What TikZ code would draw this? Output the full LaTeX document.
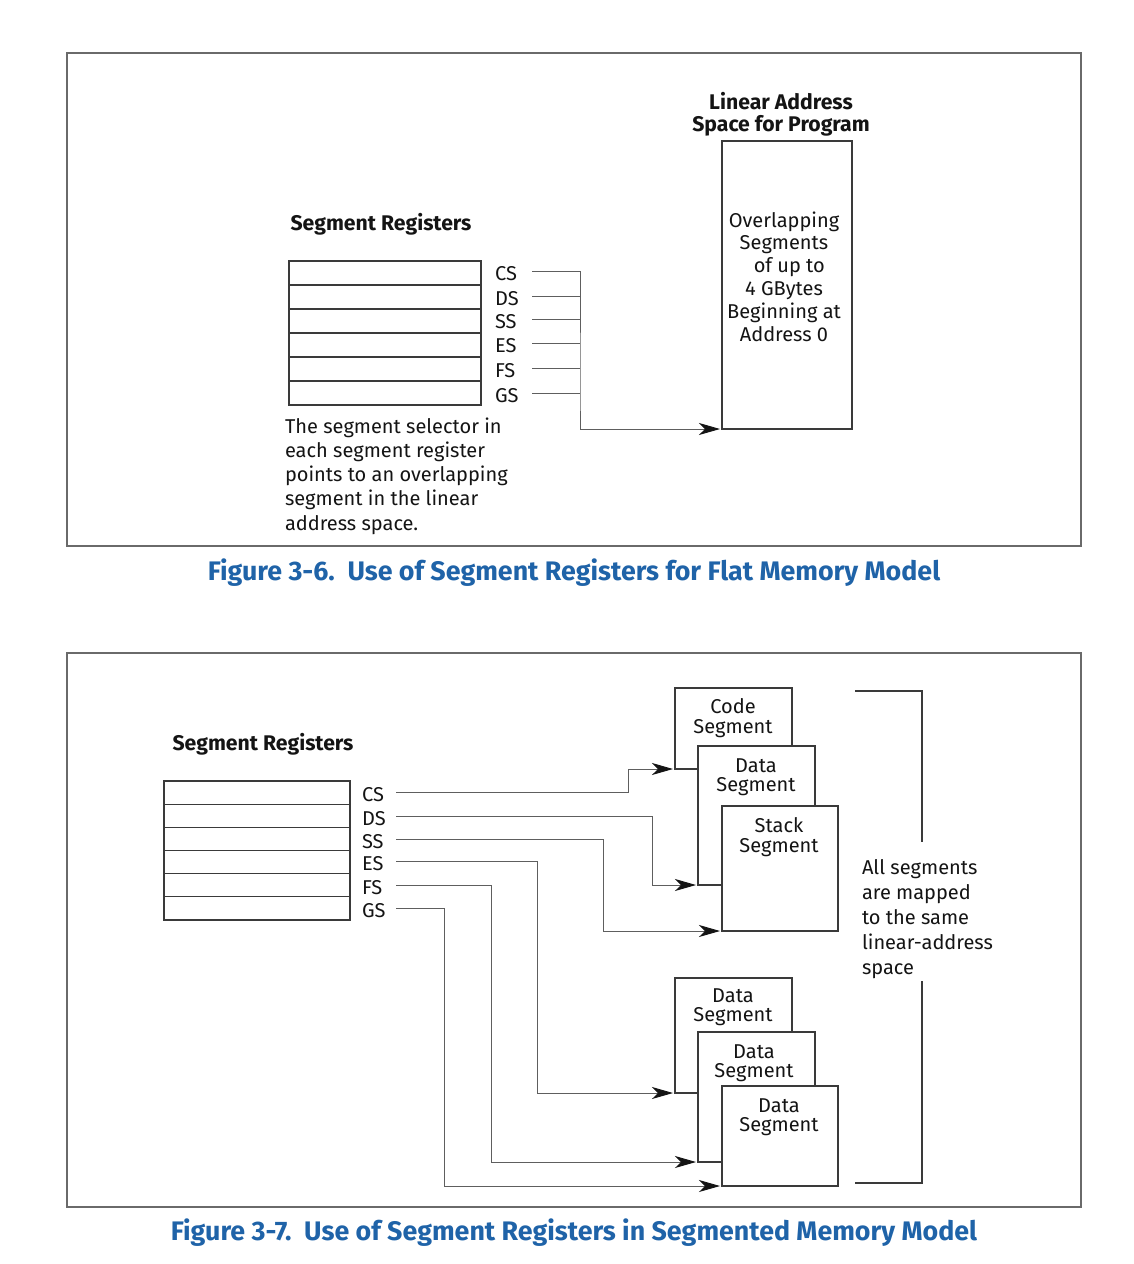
\documentclass[tikz,border=0pt]{standalone}
\usepackage{fontspec}
\setmainfont{Fira Sans}
\usetikzlibrary{arrows.meta,calc}
\definecolor{capblue}{HTML}{1F63A8}
\definecolor{ink}{HTML}{141414}
\definecolor{boxline}{HTML}{3A3A3A}
\definecolor{wire}{HTML}{5E5E5E}
\definecolor{framec}{HTML}{6A6A6A}
\begin{document}
\begin{tikzpicture}[x=1pt,y=-1pt,
  every node/.style={text=ink, inner sep=0pt, outer sep=0pt},
  txt/.style={font=\fontsize{20}{23}\selectfont},
  btxt/.style={font=\bfseries\fontsize{21.2}{22}\selectfont},
  figcap/.style={font=\bfseries\fontsize{26.8}{28}\selectfont, text=capblue},
  frame/.style={draw=framec, line width=1.4pt},
  regrow/.style={draw=boxline, line width=1.1pt, anchor=north west, minimum height=#1},
  seg/.style={draw=boxline, fill=white, line width=1.2pt, anchor=north west},
  segtxt/.style={font=\fontsize{20}{19.5}\selectfont, align=center},
  wireline/.style={draw=wire, line width=0.9pt},
  arr/.style={wireline, -{Stealth[length=21pt, width=12pt, inset=6pt, color=ink]}, shorten >=2pt},
  bracket/.style={draw=boxline, line width=1.2pt}
]
\useasboundingbox (0,0) rectangle (1134,1264);
\fill[white] (0,0) rectangle (1134,1264);

%% ================= Figure 3-6 =================
\draw[frame] (67,53) rectangle (1081,546);

\node[btxt, align=center] (lintitle) at (781,114.5) {Linear Address\\Space for Program};
\node[draw=boxline, line width=1.2pt, minimum width=130pt, minimum height=288pt, anchor=north west] (lin) at (722,141) {};
\node[txt, align=center, font=\fontsize{20}{22.8}\selectfont] (lintext) at (784,276.5)
  {Overlapping\\Segments\\\ \ of up to\\4 GBytes\\Beginning at\\Address 0};

\node[btxt] (tsr) at (381,224) {Segment Registers};
\foreach \i/\y in {1/261,2/285,3/309,4/333,5/357,6/381}
  \node[regrow=24pt, minimum width=192pt] (tr\i) at (289,\y) {};

\foreach \n/\y in {CS/271,DS/296,SS/319,ES/343,FS/368,GS/393}{
  \node[txt, anchor=west] (t\n) at (495,\y+3) {\n};
  \coordinate (t\n s) at (532,\y);
  \coordinate (t\n j) at (580,\y);
  \draw[wireline] (t\n s) -- (t\n j);
}
\draw[arr] (tCSj) -- (tGSj) |- (lin.south west);

\node[txt, align=left, anchor=west, font=\fontsize{20}{24.3}\selectfont] (tnote) at (285,476)
  {The segment selector in\\each segment register\\points to an overlapping\\segment in the linear\\address space.};

\node[figcap] (cap1) at (574,573) {Figure 3-6.\ \ Use of Segment Registers for Flat Memory Model};

%% ================= Figure 3-7 =================
\draw[frame] (67,653) rectangle (1081,1207);

\node[btxt] (bsr) at (263,744) {Segment Registers};
\foreach \i/\y in {1/781,2/804.17,3/827.33,4/850.5,5/873.67,6/896.83}
  \node[regrow=23.17pt, minimum width=186pt] (br\i) at (164,\y) {};

\foreach \n/\y in {CS/792,DS/816,SS/839,ES/861,FS/885,GS/908}{
  \node[txt, anchor=west] (b\n) at (362,\y+3) {\n};
  \coordinate (b\n s) at (396,\y);
}

% upper group of segments
\node[seg, minimum width=117pt, minimum height=81pt] (code) at (675,688) {};
\node[segtxt] (codet) at (733,718) {Code\\Segment};
\node[seg, minimum width=117pt, minimum height=139pt] (data) at (698,746) {};
\node[segtxt] (datat) at (756,777) {Data\\Segment};
\node[seg, minimum width=116pt, minimum height=125pt] (stack) at (722,806) {};
\node[segtxt] (stackt) at (779,837) {Stack\\Segment};

% lower group of segments
\node[seg, minimum width=117pt, minimum height=115pt] (dA) at (675,978) {};
\node[segtxt] (dAt) at (733,1007) {Data\\Segment};
\node[seg, minimum width=117pt, minimum height=130pt] (dB) at (698,1032) {};
\node[segtxt] (dBt) at (754,1063) {Data\\Segment};
\node[seg, minimum width=116pt, minimum height=100pt] (dC) at (722,1086) {};
\node[segtxt] (dCt) at (779,1117) {Data\\Segment};

% connectors
\draw[arr] (bCSs) -| (628,769) -- (code.south west);
\draw[arr] (bDSs) -| (652,885) -- (data.south west);
\draw[arr] (bSSs) -| (603,931) -- (stack.south west);
\draw[arr] (bESs) -| (537,1093) -- (dA.south west);
\draw[arr] (bFSs) -| (491,1162) -- (dB.south west);
\draw[arr] (bGSs) -| (444,1186) -- (dC.south west);

% bracket and note
\coordinate (brA) at (855,691);
\coordinate (brB) at (922,691);
\coordinate (brC) at (922,842);
\coordinate (brD) at (922,981);
\coordinate (brE) at (922,1183);
\coordinate (brF) at (855,1183);
\draw[bracket] (brA) -- (brB) -- (brC);
\draw[bracket] (brD) -- (brE) -- (brF);
\node[txt, align=left, anchor=west, font=\fontsize{20}{25}\selectfont] (bnote) at (862,919)
  {All segments\\are mapped\\to the same\\linear-address\\space};

\node[figcap] (cap2) at (574,1233) {Figure 3-7.\ \ Use of Segment Registers in Segmented Memory Model};
\end{tikzpicture}
\end{document}
